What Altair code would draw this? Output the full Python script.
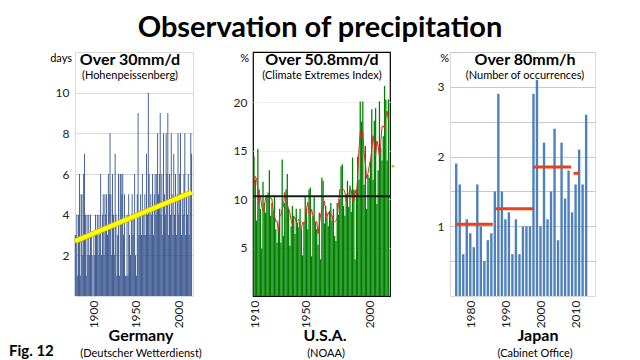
import altair as alt
import pandas as pd

FONT = "Lato"

# ---------------- Germany (Hohenpeissenberg), days over 30mm/d ----------------
de_years = list(range(1879, 2017))
de_days = [3, 3, 4, 1, 4, 6, 1, 5, 5, 2, 6, 7, 4, 1, 4, 2, 4, 2, 4, 3,
           2, 0, 3, 2, 4, 3, 4, 2, 4, 3, 6, 2, 4, 5, 2, 5, 4, 5, 3, 6,
           5, 8, 5, 2, 6, 4, 2, 7, 4, 1, 3, 6, 1, 6, 6, 5, 6, 3, 5, 1,
           1, 4, 1, 5, 3, 2, 4, 5, 3, 4, 6, 2, 1, 5, 9, 3, 4, 5, 3, 6,
           4, 3, 5, 3, 7, 4, 10, 6, 3, 5, 4, 6, 3, 5, 6, 4, 6, 8, 5, 6,
           9, 4, 6, 3, 8, 5, 4, 8, 6, 9, 3, 6, 4, 8, 5, 3, 7, 4, 6, 3,
           5, 8, 4, 6, 8, 3, 5, 4, 6, 8, 3, 5, 4, 6, 3, 5, 8, 7]
de_trend_years = [1879, 2016]
de_trend_vals = [2.7, 5.1]

# ---------------- U.S.A. (NOAA CEI), % over 50.8mm/d ----------------
us_years = list(range(1910, 2016))
us_pct = [14.4, 12.0, 7.8, 15.2, 11.0, 9.0, 4.9, 11.8, 9.6, 8.6,
          10.3, 10.7, 13.0, 8.3, 9.6, 8.8, 10.4, 6.9, 5.5, 6.9,
          9.0, 5.5, 14.1, 6.2, 9.6, 11.0, 12.6, 9.0, 5.2, 7.2,
          9.3, 8.3, 6.4, 9.0, 7.6, 7.1, 9.0, 6.9, 4.2, 7.6,
          10.3, 9.0, 6.9, 11.0, 11.2, 4.1, 8.3, 10.2, 7.6, 6.9,
          5.3, 8.6, 3.8, 12.2, 11.9, 7.5, 9.3, 8.2, 7.2, 8.8,
          9.6, 7.8, 9.0, 6.2, 5.7, 9.6, 8.4, 10.0, 13.4, 13.6,
          9.3, 8.3, 10.5, 11.9, 9.2, 11.4, 8.7, 14.3, 11.0, 3.8,
          11.0, 14.4, 12.0, 20.1, 18.0, 20.1, 11.5, 15.5, 9.0, 12.5,
          12.2, 14.0, 19.3, 12.0, 18.1, 19.4, 9.5, 13.0, 20.1, 15.3,
          14.0, 16.5, 21.7, 20.3, 14.0, 20.3]
us_mean = [10.3]
us_marker = [13.4]

# ---------------- Japan (Cabinet Office), occurrences over 80mm/h ----------------
jp_years = list(range(1976, 2014))
jp_vals = [1.9, 1.6, 0.6, 1.1, 0.9, 0.7, 1.6, 1.0, 0.5, 0.8,
           0.9, 1.5, 2.9, 1.5, 1.1, 1.2, 0.6, 1.1, 0.6, 1.0,
           1.0, 1.0, 2.9, 3.1, 1.0, 2.2, 1.1, 1.5, 2.4, 0.8,
           2.2, 1.4, 1.8, 1.2, 1.6, 2.1, 1.6, 2.6]
jp_avg_start = [1975.7, 1987.1, 1997.9, 2009.4]
jp_avg_end = [1986.4, 1998.1, 2008.7, 2011.1]
jp_avg_val = [1.03, 1.25, 1.85, 1.76]

H = 244


def label(text, x, y, size, bold=False, align="center", color="black"):
    return alt.Chart(pd.DataFrame({"t": [text]})).mark_text(
        align=align, baseline="middle", fontSize=size,
        fontWeight="bold" if bold else "normal", font=FONT, color=color
    ).encode(x=alt.value(x), y=alt.value(y), text="t:N")


def xaxis(values):
    return alt.Axis(values=values, labelAngle=270, format="d", grid=False, ticks=False,
                    domain=False, labelFontSize=12, labelPadding=4, title=None,
                    labelFont=FONT, labelColor="#222")


def yaxis(values, grid_color, label_expr=None):
    kw = dict(values=values, grid=True, gridColor=grid_color, ticks=False, domain=False,
              labelFontSize=12, labelPadding=6, title=None, labelFont=FONT, labelColor="#222")
    if label_expr:
        kw["labelExpr"] = label_expr
    return alt.Axis(**kw)


# ---- Germany panel ----
de_xs = alt.Scale(domain=[1878.8, 2017.6], nice=False, zero=False)
de_ys = alt.Scale(domain=[0, 12], nice=False)
de_xa = xaxis([1900, 1950, 2000])
de_ya = yaxis([2, 4, 6, 8, 10], "#D9D9D9")
de_df = pd.DataFrame({"year": de_years, "days": de_days})
de_bars = alt.Chart(de_df).transform_calculate(
    x0="datum.year - 0.5", x1="datum.year + 0.5"
).mark_bar(color="#2C4A86").encode(
    x=alt.X("x0:Q", scale=de_xs, axis=de_xa),
    x2="x1:Q",
    y=alt.Y("days:Q", scale=de_ys, axis=de_ya),
    y2=alt.datum(0),
)
de_tr_df = pd.DataFrame({"year": de_trend_years, "v": de_trend_vals})
de_trend_edge = alt.Chart(de_tr_df).mark_line(color="#C9B800", strokeWidth=5.5).encode(
    x=alt.X("year:Q", scale=de_xs, axis=de_xa), y=alt.Y("v:Q", scale=de_ys, axis=de_ya))
de_trend = alt.Chart(de_tr_df).mark_line(color="#FFFF00", strokeWidth=4).encode(
    x=alt.X("year:Q", scale=de_xs, axis=de_xa), y=alt.Y("v:Q", scale=de_ys, axis=de_ya))

germany = alt.layer(
    de_bars, de_trend_edge, de_trend,
    label("Over 30mm/d", 55, 8, 16, bold=True),
    label("(Hohenpeissenberg)", 55, 24, 11),
    label("days", -3, 7, 11, align="right"),
    label("Germany", 66, 284, 16, bold=True),
    label("(Deutscher Wetterdienst)", 66, 302, 11),
    label("Fig. 12", -66, 299, 15, bold=True, align="left"),
).properties(width=118, height=H, view=alt.ViewBackground(stroke="#D9D9D9"))

# ---- U.S.A. panel ----
us_xs = alt.Scale(domain=[1909.2, 2016.25], nice=False, zero=False)
us_ys = alt.Scale(domain=[0, 25.2], nice=False)
us_xa = xaxis([1910, 1950, 2000])
us_ya = yaxis([5, 10, 15, 20], "#EEEEEE")
us_df = pd.DataFrame({"year": us_years, "pct": us_pct})
us_bars = alt.Chart(us_df).transform_calculate(
    x0="datum.year - 0.5", x1="datum.year + 0.5"
).mark_bar(color="#008000").encode(
    x=alt.X("x0:Q", scale=us_xs, axis=us_xa),
    x2="x1:Q",
    y=alt.Y("pct:Q", scale=us_ys, axis=us_ya),
    y2=alt.datum(0),
)
us_ma = alt.Chart(us_df).transform_window(
    ma="mean(pct)", frame=[-2, 2], sort=[alt.SortField("year")]
).mark_line(color="#D03020", strokeWidth=1).encode(
    x=alt.X("year:Q", scale=us_xs, axis=us_xa), y=alt.Y("ma:Q", scale=us_ys, axis=us_ya))
us_mean_rule = alt.Chart(pd.DataFrame({"v": us_mean})).mark_rule(
    color="#1A1A1A", strokeWidth=2).encode(y=alt.Y("v:Q", scale=us_ys, axis=us_ya))
us_dot = alt.Chart(pd.DataFrame({"v": us_marker})).mark_point(
    filled=True, size=8, color="#F2B000", opacity=1).encode(
    x=alt.value(140), y=alt.Y("v:Q", scale=us_ys, axis=us_ya))

usa = alt.layer(
    us_bars, us_ma, us_mean_rule, us_dot,
    label("Over 50.8mm/d", 69, 8, 16, bold=True),
    label("(Climate Extremes Index)", 69, 24, 11),
    label("%", -4, 7, 11, align="right"),
    label("U.S.A.", 72, 284, 16, bold=True),
    label("(NOAA)", 73, 302, 11),
).properties(width=137, height=H, view=alt.ViewBackground(stroke="#000000", strokeWidth=1.2))

# ---- Japan panel ----
jp_xs = alt.Scale(domain=[1975.65, 2014.1], nice=False, zero=False)
jp_ys = alt.Scale(domain=[0, 3.5], nice=False)
jp_xa = xaxis([1980, 1990, 2000, 2010])
jp_ya = yaxis([0.5, 1, 1.5, 2, 2.5, 3, 3.5], "#C8C8C8",
              "datum.value % 1 == 0 ? datum.value : ''")
jp_df = pd.DataFrame({"year": jp_years, "v": jp_vals})
jp_bars = alt.Chart(jp_df).mark_bar(color="#4F81BD", width=2.4).encode(
    x=alt.X("year:Q", scale=jp_xs, axis=jp_xa),
    y=alt.Y("v:Q", scale=jp_ys, axis=jp_ya),
)
jp_avg_df = pd.DataFrame({"x0": jp_avg_start, "x1": jp_avg_end, "v": jp_avg_val})
jp_avg = alt.Chart(jp_avg_df).mark_rule(color="#E8401C", strokeWidth=3).encode(
    x=alt.X("x0:Q", scale=jp_xs, axis=jp_xa), x2="x1:Q",
    y=alt.Y("v:Q", scale=jp_ys, axis=jp_ya))

japan = alt.layer(
    jp_bars, jp_avg,
    label("Over 80mm/h", 75, 8, 16, bold=True),
    label("(Number of occurrences)", 75, 24, 11),
    label("%", -1, 7, 11, align="right"),
    label("Japan", 88, 284, 16, bold=True),
    label("(Cabinet Office)", 85, 302, 11),
).properties(width=145, height=H, view=alt.ViewBackground(stroke="#D9D9D9"))

chart = alt.hconcat(germany, usa, japan, spacing=60, bounds="flush").properties(
    title=alt.TitleParams("Observation of precipitation", fontSize=29, font=FONT,
                          fontWeight="bold", anchor="middle", dx=18, offset=8,
                          color="black"),
    padding={"left": 0, "top": 6, "right": 0, "bottom": 0},
    background="white",
).configure_view(strokeWidth=1)

chart.save("out.html", embed_options={"renderer": "svg", "actions": False})
